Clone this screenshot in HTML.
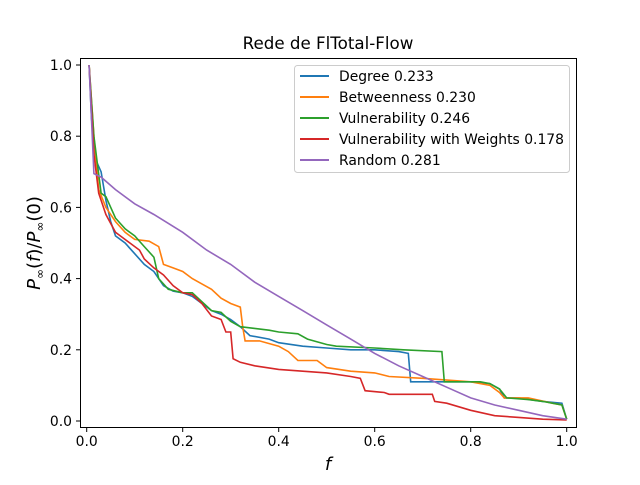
<!DOCTYPE html>
<html><head><meta charset="utf-8"><style>
body{margin:0;background:#fff;}
svg{font-family:"DejaVu Sans","Liberation Sans",sans-serif;}
</style></head><body>
<svg id="chart" width="640" height="480" viewBox="0 0 640 480" xmlns="http://www.w3.org/2000/svg">
<rect width="640" height="480" fill="#fff"/>
<text x="328" y="49" font-size="16.7" text-anchor="middle">Rede de FlTotal-Flow</text>
<g id="plot"></g>
<rect x="80.5" y="58.5" width="496" height="369" fill="none" stroke="#000" stroke-width="1"/>
<g id="ticks"></g>
<text x="328" y="470" font-size="18" font-style="italic" text-anchor="middle">f</text>
<text transform="translate(40,243) rotate(-90)" font-size="18" text-anchor="middle"><tspan font-style="italic">P</tspan><tspan font-size="12" dy="4">∞</tspan><tspan dy="-4">(</tspan><tspan font-style="italic">f</tspan><tspan>)/</tspan><tspan font-style="italic">P</tspan><tspan font-size="12" dy="4">∞</tspan><tspan dy="-4">(0)</tspan></text>
<g id="legend"></g>
</svg>
<script>
const xTicks=[0.0,0.2,0.4,0.6,0.8,1.0];
const yTicks=[0.0,0.2,0.4,0.6,0.8,1.0];
const seriesNames=["Degree 0.233","Betweenness 0.230","Vulnerability 0.246","Vulnerability with Weights 0.178","Random 0.281"];
const seriesColors=["#1f77b4","#ff7f0e","#2ca02c","#d62728","#9467bd"];
const degree=[[0.005,1.0],[0.01,0.85],[0.02,0.73],[0.03,0.70],[0.04,0.62],[0.05,0.56],[0.06,0.52],[0.08,0.50],[0.1,0.47],[0.12,0.44],[0.14,0.42],[0.16,0.38],[0.18,0.365],[0.2,0.36],[0.22,0.35],[0.24,0.33],[0.26,0.31],[0.28,0.30],[0.3,0.285],[0.32,0.265],[0.34,0.24],[0.38,0.23],[0.4,0.22],[0.45,0.21],[0.5,0.205],[0.55,0.20],[0.6,0.20],[0.65,0.195],[0.67,0.19],[0.675,0.11],[0.72,0.11],[0.8,0.11],[0.84,0.105],[0.86,0.09],[0.87,0.065],[0.9,0.065],[0.95,0.055],[0.99,0.05],[1.0,0.005]];
const betweenness=[[0.005,1],[0.015,0.8],[0.025,0.65],[0.04,0.6],[0.06,0.56],[0.08,0.53],[0.1,0.51],[0.13,0.505],[0.15,0.49],[0.16,0.44],[0.18,0.43],[0.2,0.42],[0.22,0.40],[0.24,0.385],[0.26,0.37],[0.28,0.345],[0.3,0.33],[0.32,0.32],[0.325,0.265],[0.33,0.225],[0.36,0.225],[0.4,0.21],[0.42,0.195],[0.44,0.17],[0.48,0.17],[0.5,0.15],[0.55,0.14],[0.6,0.135],[0.63,0.125],[0.7,0.12],[0.8,0.11],[0.84,0.10],[0.86,0.08],[0.87,0.065],[0.92,0.065],[0.97,0.05],[0.99,0.045],[1.0,0.005]];
const vulnerability=[[0.005,1],[0.015,0.8],[0.03,0.64],[0.04,0.63],[0.06,0.57],[0.08,0.54],[0.1,0.52],[0.12,0.49],[0.14,0.46],[0.15,0.40],[0.17,0.37],[0.2,0.36],[0.22,0.36],[0.24,0.335],[0.26,0.31],[0.28,0.305],[0.3,0.28],[0.32,0.265],[0.35,0.26],[0.38,0.255],[0.4,0.25],[0.44,0.245],[0.46,0.23],[0.5,0.215],[0.52,0.21],[0.6,0.205],[0.66,0.20],[0.74,0.195],[0.745,0.11],[0.82,0.11],[0.84,0.105],[0.86,0.09],[0.875,0.065],[0.92,0.06],[0.95,0.055],[0.99,0.045],[1.0,0.005]];
const vulnWeights=[[0.005,1],[0.015,0.75],[0.025,0.64],[0.04,0.58],[0.06,0.53],[0.07,0.52],[0.09,0.50],[0.11,0.48],[0.12,0.455],[0.14,0.43],[0.16,0.41],[0.18,0.38],[0.2,0.36],[0.22,0.355],[0.24,0.33],[0.26,0.295],[0.28,0.285],[0.29,0.25],[0.3,0.25],[0.305,0.175],[0.32,0.165],[0.35,0.155],[0.4,0.145],[0.45,0.14],[0.5,0.135],[0.55,0.125],[0.57,0.12],[0.58,0.085],[0.62,0.08],[0.63,0.075],[0.72,0.075],[0.725,0.055],[0.75,0.05],[0.8,0.03],[0.85,0.015],[0.9,0.01],[0.95,0.005],[1.0,0.003]];
const randomS=[[0.005,1],[0.015,0.695],[0.03,0.685],[0.06,0.65],[0.1,0.61],[0.14,0.58],[0.2,0.53],[0.25,0.48],[0.3,0.44],[0.35,0.39],[0.4,0.35],[0.45,0.31],[0.5,0.27],[0.55,0.23],[0.6,0.19],[0.65,0.155],[0.7,0.125],[0.75,0.095],[0.8,0.065],[0.85,0.045],[0.9,0.03],[0.95,0.015],[1.0,0.005]];
const allSeries=[degree,betweenness,vulnerability,vulnWeights,randomS];
const seriesKeys=["degree","betweenness","vulnerability","vulnerability-weights","random"];
const NS="http://www.w3.org/2000/svg";
function sx(v){return 86.7+v*480;}
function sy(v){return 421-v*356;}
const plot=document.getElementById('plot');
allSeries.forEach((s,i)=>{
  const p=document.createElementNS(NS,'polyline');
  p.setAttribute('points',s.map(d=>sx(d[0]).toFixed(1)+','+sy(d[1]).toFixed(1)).join(' '));
  p.setAttribute('fill','none');p.setAttribute('stroke',seriesColors[i]);p.setAttribute('stroke-width','1.6');
  
  
  plot.appendChild(p);
});
const tk=document.getElementById('ticks');
xTicks.forEach(t=>{
  const l=document.createElementNS(NS,'line');
  l.setAttribute('x1',sx(t));l.setAttribute('x2',sx(t));l.setAttribute('y1',428);l.setAttribute('y2',432);l.setAttribute('stroke','#000');
  
  
  tk.appendChild(l);
  const tx=document.createElementNS(NS,'text');
  tx.setAttribute('x',sx(t));tx.setAttribute('y',446);tx.setAttribute('font-size','13.9');tx.setAttribute('text-anchor','middle');
  tx.textContent=t.toFixed(1);
  
  
  tk.appendChild(tx);
});
yTicks.forEach(t=>{
  const l=document.createElementNS(NS,'line');
  l.setAttribute('x1',76);l.setAttribute('x2',80);l.setAttribute('y1',sy(t));l.setAttribute('y2',sy(t));l.setAttribute('stroke','#000');
  
  
  tk.appendChild(l);
  const tx=document.createElementNS(NS,'text');
  tx.setAttribute('x',72);tx.setAttribute('y',sy(t)+5);tx.setAttribute('font-size','13.9');tx.setAttribute('text-anchor','end');
  tx.textContent=t.toFixed(1);
  
  
  tk.appendChild(tx);
});
const lg=document.getElementById('legend');
const box=document.createElementNS(NS,'rect');
box.setAttribute('x',294.5);box.setAttribute('y',65.5);box.setAttribute('width',275);box.setAttribute('height',107);box.setAttribute('rx',3);
box.setAttribute('fill','#fff');box.setAttribute('fill-opacity','0.8');box.setAttribute('stroke','#ccc');


lg.appendChild(box);
seriesNames.forEach((n,i)=>{
  const y=76+i*21;
  const l=document.createElementNS(NS,'line');
  l.setAttribute('x1',300);l.setAttribute('x2',329);l.setAttribute('y1',y);l.setAttribute('y2',y);l.setAttribute('stroke',seriesColors[i]);l.setAttribute('stroke-width','2');
  
  
  lg.appendChild(l);
  const tx=document.createElementNS(NS,'text');
  tx.setAttribute('x',339);tx.setAttribute('y',y+5);tx.setAttribute('font-size','13.9');
  tx.textContent=n;
  
  
  lg.appendChild(tx);
});
</script>
</body></html>
